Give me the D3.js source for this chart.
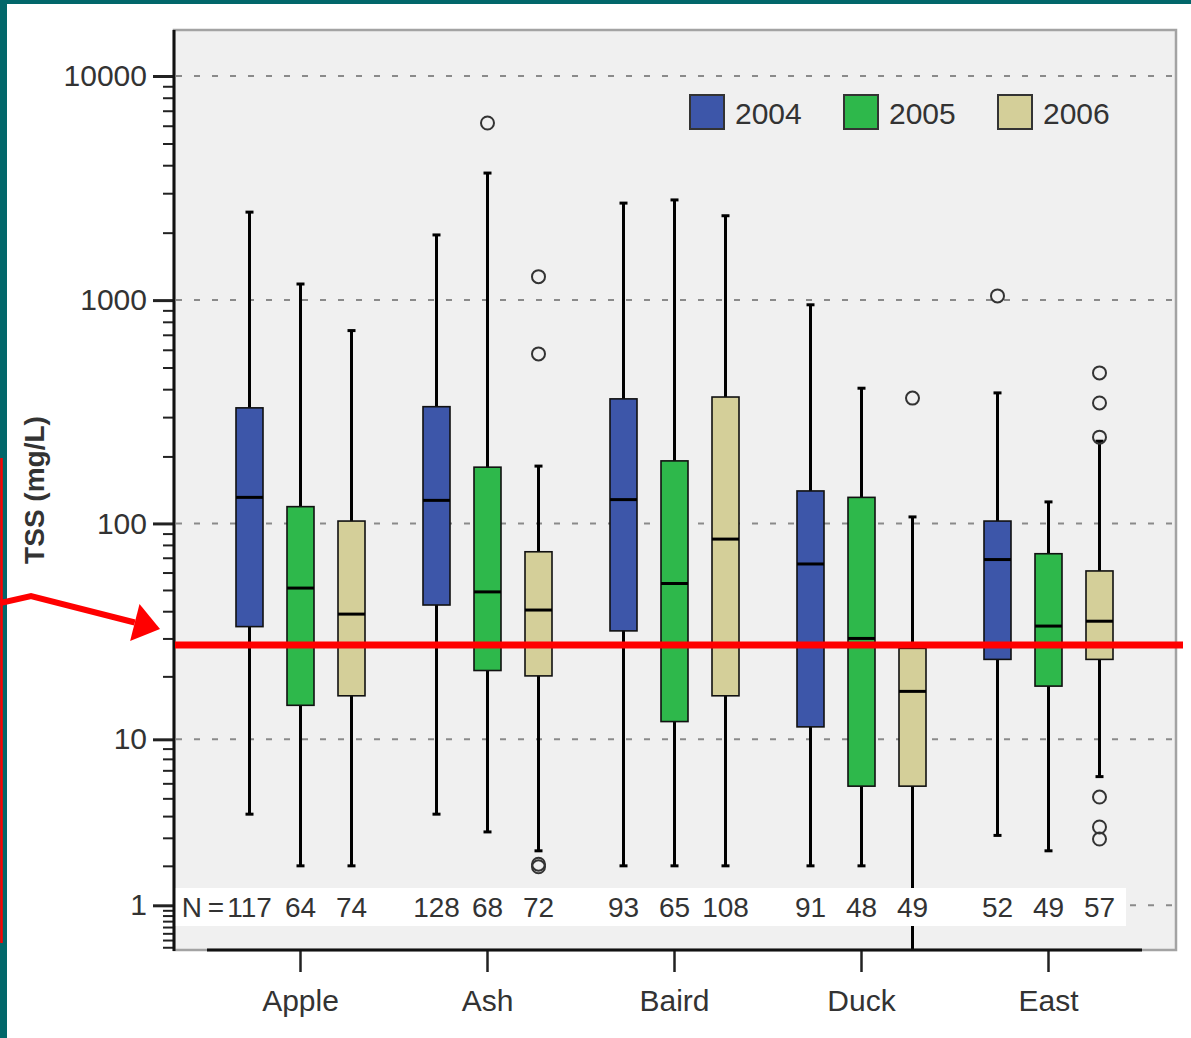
<!DOCTYPE html>
<html>
<head>
<meta charset="utf-8">
<script src="https://cdn.jsdelivr.net/npm/d3@7"></script>
<style>
    body { margin: 0; background: #fff; }
    #chart { width: 1191px; height: 1038px; }
    text { font-family: "Liberation Sans", Arial, sans-serif; fill: #333; }
</style>
</head>
<body>
<div id="chart"></div>
<script>
// sites and years
const sites = ["Apple", "Ash", "Baird", "Duck", "East"];
const years = ["2004", "2005", "2006"];
const yearColors = ["#3d56a9", "#2eb84b", "#d4cf99"];

// sample sizes (rows = site, cols = year)
const nCounts = [
    [117, 64, 74],
    [128, 68, 72],
    [93, 65, 108],
    [91, 48, 49],
    [52, 49, 57]
];

// box statistics, TSS in mg/L
const lowWhisker = [
    [4.1, 2, 2],
    [4.1, 3.25, 2.5],
    [2, 2, 2],
    [2, 2, 0],
    [3.1, 2.5, 6.5]
];
const q1Values = [
    [34, 14.6, 16.2],
    [42.7, 21.3, 20.1],
    [32.5, 12.2, 16.2],
    [11.5, 5.8, 5.8],
    [24, 18, 24]
];
const medianValues = [
    [131, 51, 38.8],
    [127, 49, 40.5],
    [128, 53.5, 85],
    [65.6, 30, 17],
    [68.7, 34.2, 36]
];
const q3Values = [
    [330, 119, 102.5],
    [334, 179, 74.5],
    [362, 191, 369],
    [140, 131, 27],
    [102.5, 73, 61]
];
const highWhisker = [
    [2470, 1180, 731],
    [1954, 3690, 181],
    [2710, 2800, 2380],
    [953, 404, 107],
    [385, 125, 234]
];
const outlierValues = [
    [[], [], []],
    [[], [6170], [1273, 575, 2.05, 1.97]],
    [[], [], []],
    [[], [], [365]],
    [[1044], [], [473, 347, 244, 5.08, 3.47, 2.95]]
];

// axis ticks
const majorTicks = [1, 10, 100, 1000, 10000];
const thresholdValue = 28;

class BoxPlotVis {
    constructor(parentElement) {
        this.parentElement = parentElement;
        this.initVis();
    }

    initVis() {
        let vis = this;

        vis.plot = {left: 174, top: 30, right: 1176, bottom: 950};

        vis.svg = d3.select("#" + vis.parentElement)
            .append("svg")
            .attr("width", 1191)
            .attr("height", 1038);

        // slide edges
        vis.svg.append("rect").attr("x", 0).attr("y", 0).attr("width", 1191).attr("height", 4).attr("fill", "#02676a");
        vis.svg.append("rect").attr("x", 0).attr("y", 0).attr("width", 7).attr("height", 1038).attr("fill", "#02676a");

        // plot background + frame
        vis.svg.append("rect")
            .attr("x", vis.plot.left).attr("y", vis.plot.top)
            .attr("width", vis.plot.right - vis.plot.left)
            .attr("height", vis.plot.bottom - vis.plot.top)
            .attr("fill", "#f0f0f0")
            .attr("stroke", "#a3a3a3")
            .attr("stroke-width", 2.5);

        vis.svg.append("clipPath").attr("id", "plot-clip")
            .append("rect")
            .attr("x", vis.plot.left).attr("y", vis.plot.top)
            .attr("width", vis.plot.right - vis.plot.left)
            .attr("height", vis.plot.bottom - vis.plot.top);

        // scales: log(x+1)
        vis.y = d3.scaleSymlog().constant(1)
            .domain([0, 10000])
            .range([972.8, 76]);

        vis.x = d3.scaleBand()
            .domain(sites)
            .range([207, 1142]);

        vis.xYear = d3.scalePoint()
            .domain(years)
            .range([-51, 51]);

        vis.boxWidth = 27;

        this.wrangleData();
    }

    wrangleData() {
        let vis = this;

        vis.boxes = [];
        sites.forEach((site, i) => {
            years.forEach((year, j) => {
                vis.boxes.push({
                    site: site,
                    year: year,
                    color: yearColors[j],
                    n: nCounts[i][j],
                    low: lowWhisker[i][j],
                    q1: q1Values[i][j],
                    median: medianValues[i][j],
                    q3: q3Values[i][j],
                    high: highWhisker[i][j],
                    outliers: outlierValues[i][j]
                });
            });
        });

        // minor ticks 0.3 .. 9000
        vis.minorTicks = [0.3, 0.4, 0.5, 0.6, 0.7, 0.8, 0.9];
        [1, 10, 100, 1000].forEach(dec => {
            for (let m = 2; m <= 9; m++) vis.minorTicks.push(m * dec);
        });

        this.updateVis();
    }

    updateVis() {
        let vis = this;
        let p = vis.plot;

        // gridlines
        vis.svg.append("g").selectAll("line")
            .data(majorTicks)
            .join("line")
            .attr("x1", p.left + 2).attr("x2", p.right - 2)
            .attr("y1", d => vis.y(d)).attr("y2", d => vis.y(d))
            .attr("stroke", "#8a8a8a")
            .attr("stroke-width", 2)
            .attr("stroke-dasharray", "6,12");

        let cx = d => vis.x(d.site) + vis.x.bandwidth() / 2 + vis.xYear(d.year);

        let boxG = vis.svg.append("g").attr("clip-path", "url(#plot-clip)");

        // whiskers
        boxG.selectAll(".whisker")
            .data(vis.boxes)
            .join("line")
            .attr("class", "whisker")
            .attr("x1", cx).attr("x2", cx)
            .attr("y1", d => vis.y(d.high)).attr("y2", d => vis.y(d.low))
            .attr("stroke", "#000")
            .attr("stroke-width", 3);

        // caps
        ["high", "low"].forEach(k => {
            boxG.selectAll(".cap-" + k)
                .data(vis.boxes)
                .join("line")
                .attr("class", "cap-" + k)
                .attr("x1", d => cx(d) - 4).attr("x2", d => cx(d) + 4)
                .attr("y1", d => vis.y(d[k])).attr("y2", d => vis.y(d[k]))
                .attr("stroke", "#000")
                .attr("stroke-width", 3);
        });

        // boxes
        boxG.selectAll(".box")
            .data(vis.boxes)
            .join("rect")
            .attr("class", "box")
            .attr("x", d => cx(d) - vis.boxWidth / 2)
            .attr("width", vis.boxWidth)
            .attr("y", d => vis.y(d.q3))
            .attr("height", d => vis.y(d.q1) - vis.y(d.q3))
            .attr("fill", d => d.color)
            .attr("stroke", "#111")
            .attr("stroke-width", 1.6);

        // medians
        boxG.selectAll(".median")
            .data(vis.boxes)
            .join("line")
            .attr("class", "median")
            .attr("x1", d => cx(d) - vis.boxWidth / 2).attr("x2", d => cx(d) + vis.boxWidth / 2)
            .attr("y1", d => vis.y(d.median)).attr("y2", d => vis.y(d.median))
            .attr("stroke", "#000")
            .attr("stroke-width", 3);

        // outliers
        let outs = [];
        vis.boxes.forEach(b => b.outliers.forEach(v => outs.push({site: b.site, year: b.year, value: v})));
        boxG.selectAll(".outlier")
            .data(outs)
            .join("circle")
            .attr("class", "outlier")
            .attr("cx", cx)
            .attr("cy", d => vis.y(d.value))
            .attr("r", 6.5)
            .attr("fill", "none")
            .attr("stroke", "#333")
            .attr("stroke-width", 2);

        // N band
        vis.svg.append("rect")
            .attr("x", p.left + 1).attr("y", 888)
            .attr("width", 951).attr("height", 38)
            .attr("fill", "#fff");

        vis.svg.append("g").selectAll("text")
            .data(vis.boxes)
            .join("text")
            .attr("x", cx)
            .attr("y", 917)
            .attr("text-anchor", "middle")
            .style("font-size", "28px")
            .text(d => d.n);

        vis.svg.append("text")
            .attr("x", 223).attr("y", 917)
            .attr("text-anchor", "end")
            .style("font-size", "28px")
            .style("letter-spacing", "-1px")
            .text("N =");

        // y axis
        let yMajor = vis.svg.append("g")
            .attr("transform", `translate(${p.left}, 0)`)
            .call(d3.axisLeft(vis.y).tickValues(majorTicks).tickSize(21).tickPadding(6).tickFormat(d3.format("d")));
        yMajor.select(".domain").remove();
        yMajor.selectAll("line").attr("stroke", "#222").attr("stroke-width", 3);
        yMajor.selectAll("text").style("font-size", "30px").attr("fill", "#333");

        let yMinor = vis.svg.append("g")
            .attr("transform", `translate(${p.left}, 0)`)
            .call(d3.axisLeft(vis.y).tickValues(vis.minorTicks).tickSize(11).tickFormat(""));
        yMinor.select(".domain").remove();
        yMinor.selectAll("line").attr("stroke", "#222").attr("stroke-width", 2);

        vis.svg.append("line")
            .attr("x1", p.left).attr("x2", p.left)
            .attr("y1", p.top).attr("y2", p.bottom + 1)
            .attr("stroke", "#111").attr("stroke-width", 3);

        // x axis
        let xAxis = vis.svg.append("g")
            .attr("transform", `translate(0, ${p.bottom})`)
            .call(d3.axisBottom(vis.x).tickSize(22));
        xAxis.select(".domain").remove();
        xAxis.selectAll("line").attr("stroke", "#222").attr("stroke-width", 2.5);
        xAxis.selectAll("text")
            .attr("y", 61).attr("dy", 0)
            .style("font-size", "30px").attr("fill", "#333");

        vis.svg.append("line")
            .attr("x1", vis.x.range()[0]).attr("x2", vis.x.range()[1])
            .attr("y1", p.bottom).attr("y2", p.bottom)
            .attr("stroke", "#111").attr("stroke-width", 3);

        // y title
        vis.svg.append("text")
            .attr("transform", "translate(44, 490) rotate(-90)")
            .attr("text-anchor", "middle")
            .style("font-size", "28px")
            .style("font-weight", "bold")
            .attr("fill", "#111")
            .text("TSS (mg/L)");

        // legend
        let legend = vis.svg.append("g").selectAll("g")
            .data(years)
            .join("g")
            .attr("transform", (d, i) => `translate(${690 + i * 154}, 95)`);
        legend.append("rect")
            .attr("width", 34).attr("height", 34)
            .attr("fill", (d, i) => yearColors[i])
            .attr("stroke", "#333").attr("stroke-width", 2);
        legend.append("text")
            .attr("x", 45).attr("y", 29)
            .style("font-size", "30px")
            .text(d => d);

        // threshold annotation
        let ty = vis.y(thresholdValue);
        vis.svg.append("line")
            .attr("x1", p.left + 1).attr("x2", 1183)
            .attr("y1", ty).attr("y2", ty)
            .attr("stroke", "#ff0000").attr("stroke-width", 7);

        let tip = [160, ty - 16];
        let bend = [31, 596];
        let dx = tip[0] - bend[0], dy = tip[1] - bend[1];
        let len = Math.sqrt(dx * dx + dy * dy);
        let ux = dx / len, uy = dy / len;
        let base = [tip[0] - 26 * ux, tip[1] - 26 * uy];
        vis.svg.append("path")
            .attr("d", `M0,603 L${bend[0]},${bend[1]} L${base[0]},${base[1]}`)
            .attr("fill", "none")
            .attr("stroke", "#ff0000").attr("stroke-width", 6)
            .attr("stroke-linejoin", "miter");
        vis.svg.append("path")
            .attr("d", `M${tip[0]},${tip[1]} L${base[0] + 19 * uy},${base[1] - 19 * ux} L${base[0] - 19 * uy},${base[1] + 19 * ux} Z`)
            .attr("fill", "#ff0000");

        vis.svg.append("line")
            .attr("x1", 1.5).attr("x2", 1.5)
            .attr("y1", 458).attr("y2", 943)
            .attr("stroke", "#ff0000").attr("stroke-width", 2.5);
    }
}

new BoxPlotVis("chart");
</script>
</body>
</html>
